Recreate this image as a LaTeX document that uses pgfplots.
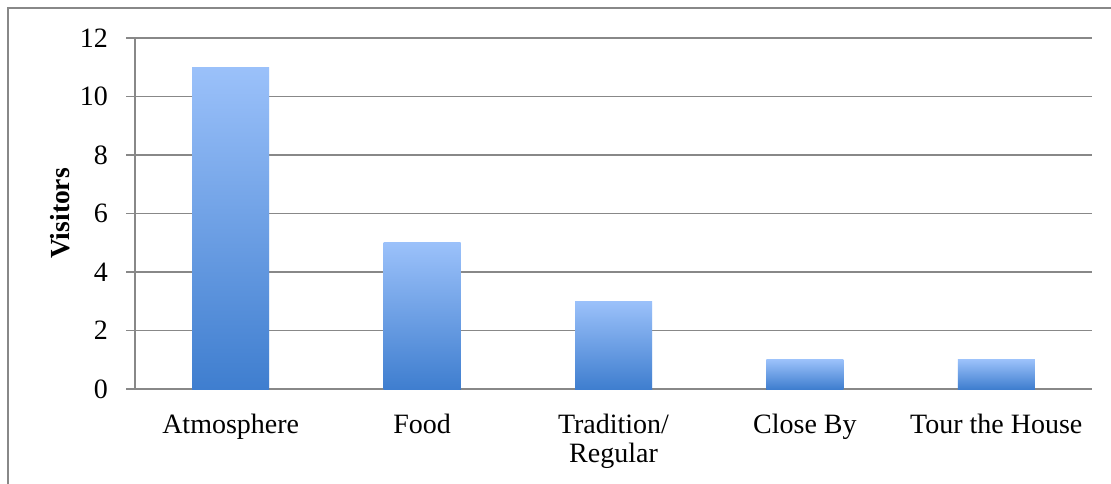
\documentclass[border=0pt]{standalone}
\usepackage{fontspec}
\setmainfont{Liberation Serif}
\usepackage{pgfplots}
\pgfplotsset{compat=1.18}
\usetikzlibrary{shadows}

\definecolor{gridgray}{HTML}{888888}
\definecolor{barlight}{HTML}{9BC1FA}
\definecolor{bardark}{HTML}{3F7ECF}

\pgfplotsset{
  gradbar/.style={draw=none, top color=barlight, bottom color=bardark, bar shift=0pt,
    drop shadow={shadow xshift=0pt, shadow yshift=-1.2pt, opacity=0.22, fill=black}},
}

\begin{document}
\begin{tikzpicture}
\clip (0,0) rectangle (555.5pt,241.5pt);
% outer chart frame
\draw[gridgray, line width=1pt] (4pt,-20pt) -- (4pt,237.5pt) -- (580pt,237.5pt);
\begin{axis}[
  at={(67.5pt,47pt)}, anchor=south west,
  scale only axis,
  width=478.5pt, height=175.5pt,
  xmin=-0.5, xmax=4.5, ymin=0, ymax=12,
  ytick={0,2,...,12},
  xtick={0,1,2,3,4},
  xticklabels={Atmosphere,Food,{Tradition/\\Regular},Close By,Tour the House},
  extra x ticks={-0.5,0.5,1.5,2.5,3.5,4.5},
  extra x tick labels={},
  extra x tick style={major tick length=4.5pt, xmajorgrids=false},
  xtick style={draw=none},
  x tick label style={align=center, yshift=-4.5pt},
  ytick style={gridgray, line width=0.75pt},
  major tick length=4.5pt,
  tick align=outside,
  axis x line*=bottom, axis y line*=left,
  x axis line style={-, gridgray, line width=0.75pt},
  y axis line style={-, gridgray, line width=0.75pt},
  ymajorgrids,
  grid style={gridgray, line width=0.75pt},
  /pgf/number format/assume math mode=true,
  tick label style={font=\fontsize{14}{14.5}\selectfont},
  y tick label style={xshift=-5.5pt},
  ylabel={\textbf{Visitors}},
  label style={font=\fontsize{13.8}{15}\selectfont},
  ylabel style={at={(axis description cs:-0.0784,0.5)}, anchor=center, rotate=0},
  ybar, bar width=38.5pt,
]
\addplot[gradbar] coordinates {(0,11)};
\addplot[gradbar] coordinates {(1,5)};
\addplot[gradbar] coordinates {(2,3)};
\addplot[gradbar] coordinates {(3,1)};
\addplot[gradbar] coordinates {(4,1)};
\end{axis}
\end{tikzpicture}
\end{document}
